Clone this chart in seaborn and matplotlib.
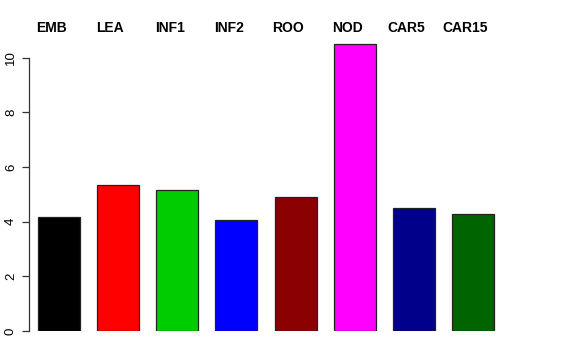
import matplotlib
matplotlib.use('Agg')
import matplotlib.pyplot as plt
import pandas as pd
import seaborn as sns

tissues = ["EMB", "LEA", "INF1", "INF2", "ROO", "NOD", "CAR5", "CAR15"]
values = [4.16, 5.36, 5.15, 4.05, 4.89, 10.51, 4.49, 4.27]
colors = ["#000000", "#FF0000", "#00CD00", "#0000FF", "#8B0000", "#FF00FF", "#00008B", "#006400"]
y_ticks = [0, 2, 4, 6, 8, 10]


def main():
	df = pd.DataFrame({"tissue": tissues, "value": values})

	sns.set_style("white")
	plt.rcParams['font.family'] = ['Liberation Sans', 'DejaVu Sans']
	plt.rcParams['text.color'] = 'black'
	plt.rcParams['ytick.color'] = 'black'

	fig = plt.figure(figsize=(5.76, 3.6), dpi=100)
	ax = fig.add_axes([29.4 / 576, 29 / 360, (502.6 - 29.4) / 576, 295 / 360])

	sns.barplot(
		data=df,
		x="tissue",
		y="value",
		hue="tissue",
		palette=colors,
		saturation=1,
		width=0.71,
		edgecolor="#222222",
		linewidth=0.9,
		legend=False,
		ax=ax
	)

	ax.set_xlim(-0.5, 7.5)
	ax.set_ylim(0, 10.8)
	ax.set_xlabel("")
	ax.set_ylabel("")
	ax.set_xticks([])

	for s in ["top", "right", "bottom"]:
		ax.spines[s].set_visible(False)
	ax.spines["left"].set_bounds(0, 10)
	ax.spines["left"].set_color("#333333")
	ax.spines["left"].set_linewidth(0.9)

	ax.set_yticks(y_ticks)
	ax.set_yticklabels([str(t) for t in y_ticks], rotation=90, va="center", fontsize=9.5, color="black")
	ax.tick_params(axis="y", left=True, length=5, width=0.9, color="#333333", pad=4)

	#labels above the bars, slightly shifted left like the original
	for i, name in enumerate(tissues):
		ax.text(i - 0.13, 11.09, name, ha="center", va="center",
			fontsize=10, fontweight="bold", color="black", clip_on=False)

	plt.savefig("out.png", dpi=100)


if __name__ == "__main__":
	main()
